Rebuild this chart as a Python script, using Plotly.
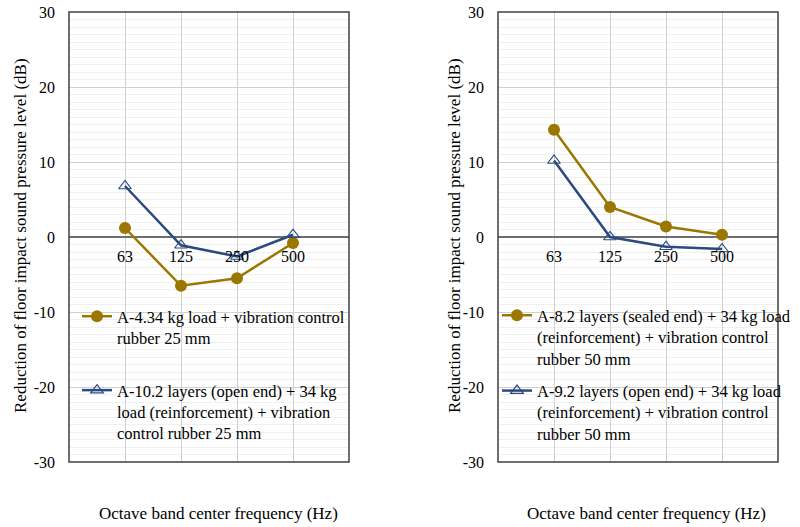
import plotly.graph_objects as go

freqs = ["63", "125", "250", "500"]

left_gold = [1.2, -6.5, -5.5, -0.8]
left_blue = [6.8, -1.1, -2.6, 0.3]
right_gold = [14.3, 4.0, 1.4, 0.3]
right_blue = [10.2, 0.0, -1.3, -1.6]

left_gold_name = "A-4.34 kg load + vibration control<br>rubber 25 mm"
left_blue_name = "A-10.2 layers (open end) + 34 kg<br>load (reinforcement) + vibration<br>control rubber 25 mm"
right_gold_name = "A-8.2 layers (sealed end) + 34 kg load<br>(reinforcement) + vibration control<br>rubber 50 mm"
right_blue_name = "A-9.2 layers (open end) + 34 kg load<br>(reinforcement) + vibration control<br>rubber 50 mm"

y_ticks = [-30, -20, -10, 0, 10, 20, 30]
y_tick_text = ["-30", "-20", "-10", "0", "10", "20", "30"]
x_title = "Octave band center frequency (Hz)"
y_title = "Reduction of floor impact sound pressure level (dB)"

GOLD = "#9C7700"
BLUE = "#2B4A80"
FONT = "Liberation Serif, Times New Roman, serif"
FS_TICK = 16
FS_LEG = 16.5
FS_TITLE = 17

W, H = 800, 527
def px_x(v): return v / W
def px_y(v): return 1 - v / H

fig = go.Figure()

def add_pair(gold, blue, gname, bname, xa, ya, leg):
    fig.add_trace(go.Scatter(
        x=freqs, y=gold, name=gname, mode="lines+markers", xaxis=xa, yaxis=ya,
        line=dict(color=GOLD, width=2.5),
        marker=dict(symbol="circle", size=12, color=GOLD),
        legend=leg, legendgroup=leg + "g"))
    fig.add_trace(go.Scatter(
        x=freqs, y=blue, name=bname, mode="lines+markers", xaxis=xa, yaxis=ya,
        line=dict(color=BLUE, width=2.5),
        marker=dict(symbol="triangle-up-open", size=11, color=BLUE, line=dict(width=1.2)),
        legend=leg, legendgroup=leg + "b"))

add_pair(left_gold, left_blue, left_gold_name, left_blue_name, "x", "y", "legend")
add_pair(right_gold, right_blue, right_gold_name, right_blue_name, "x2", "y2", "legend2")

ydom = [px_y(462), px_y(12)]
zero_pos = px_y(237)

common_x = dict(type="category", categoryorder="array", categoryarray=freqs,
                range=[-1, 4], showgrid=True, gridcolor="#D0D0D0", gridwidth=1,
                showline=False, zeroline=False, ticks="", ticklabelstandoff=8,
                tickfont=dict(family=FONT, size=FS_TICK, color="black"),
                anchor="free", position=zero_pos, automargin=False)
common_y = dict(range=[-30, 30], tickvals=y_ticks, ticktext=y_tick_text, showgrid=True,
                gridcolor="#D0D0D0", gridwidth=1,
                zeroline=True, zerolinecolor="#6E6E6E", zerolinewidth=1.5,
                minor=dict(dtick=1, showgrid=True, gridcolor="#F0F0F0", gridwidth=1),
                showline=False, ticks="", ticklabelstandoff=13, automargin=False,
                tickfont=dict(family=FONT, size=FS_TICK, color="black"), domain=ydom)

leg_font = dict(family=FONT, size=FS_LEG, color="black")
fig.update_layout(
    width=W, height=H, margin=dict(l=0, r=0, t=0, b=0, autoexpand=False),
    paper_bgcolor="white", plot_bgcolor="white",
    font=dict(family=FONT, size=FS_TICK, color="black"),
    xaxis=dict(domain=[px_x(69), px_x(349)], **common_x),
    xaxis2=dict(domain=[px_x(498), px_x(778)], **common_x),
    yaxis=dict(anchor="x", **common_y),
    yaxis2=dict(anchor="x2", **common_y),
    legend=dict(x=px_x(77), y=px_y(299), xanchor="left", yanchor="top",
                bgcolor="rgba(0,0,0,0)", borderwidth=0, valign="top",
                tracegroupgap=28, font=leg_font),
    legend2=dict(x=px_x(497), y=px_y(298), xanchor="left", yanchor="top",
                 bgcolor="rgba(0,0,0,0)", borderwidth=0, valign="top",
                 tracegroupgap=8, font=leg_font),
    showlegend=True,
)

for xr, yr in [("x domain", "y domain"), ("x2 domain", "y2 domain")]:
    fig.add_shape(type="rect", xref=xr, yref=yr, x0=0, x1=1, y0=0, y1=1,
                  line=dict(color="#404040", width=1.5), layer="above")

ann_font = dict(family=FONT, size=FS_TITLE, color="black")
fig.add_annotation(text=x_title, xref="paper", yref="paper", x=px_x(218), y=px_y(513),
                   xanchor="center", yanchor="middle", showarrow=False, font=ann_font)
fig.add_annotation(text=x_title, xref="paper", yref="paper", x=px_x(646), y=px_y(513),
                   xanchor="center", yanchor="middle", showarrow=False, font=ann_font)
fig.add_annotation(text=y_title, xref="paper", yref="paper", x=px_x(21), y=px_y(236),
                   xanchor="center", yanchor="middle", textangle=-90, showarrow=False, font=ann_font)
fig.add_annotation(text=y_title, xref="paper", yref="paper", x=px_x(455), y=px_y(236),
                   xanchor="center", yanchor="middle", textangle=-90, showarrow=False, font=ann_font)

fig.write_html("out.html")
